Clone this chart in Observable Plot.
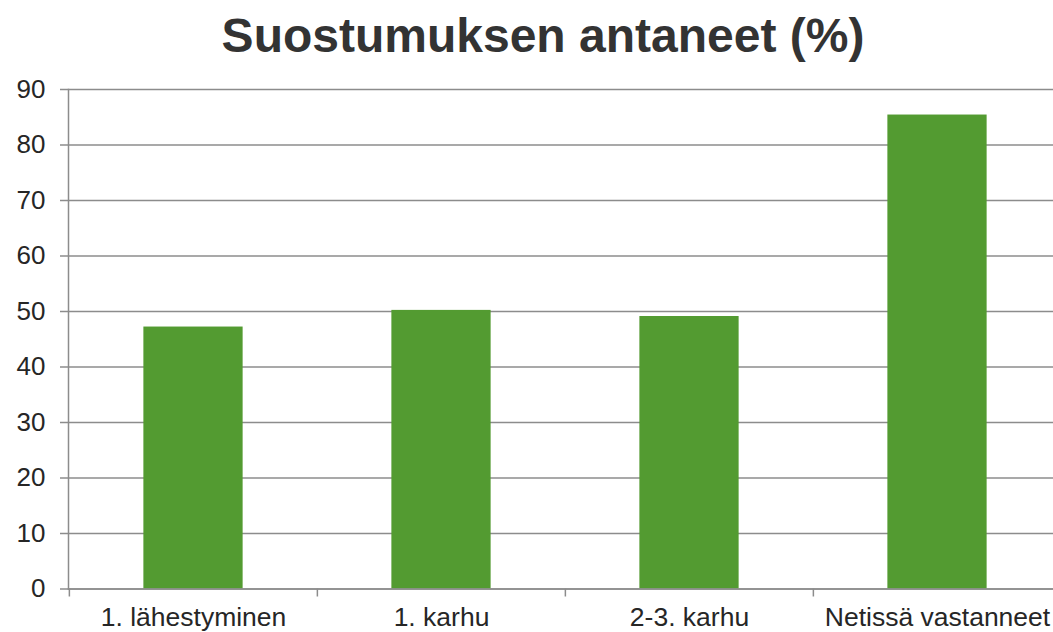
<!DOCTYPE html>
<html>
<head>
<meta charset="utf-8">
<script src="https://cdn.jsdelivr.net/npm/d3@7"></script>
<script src="https://cdn.jsdelivr.net/npm/@observablehq/plot@0.6"></script>
<style>
  html, body { margin: 0; padding: 0; background: #fff; overflow: hidden; }
  #title { position: relative; height: 70px; font-family: "Liberation Sans", Arial, sans-serif; font-weight: bold; font-size: 48px; line-height: 48px; color: #333; }
  #title span { position: absolute; left: 543px; top: 12px; transform: translateX(-50%); white-space: nowrap; }
</style>
</head>
<body>
<div id="title"><span>Suostumuksen antaneet (%)</span></div>
<div id="chart"></div>
<script>
const categories = ["1. lähestyminen", "1. karhu", "2-3. karhu", "Netissä vastanneet"];
const values = [47.2, 50.2, 49.1, 85.4];
const yTicks = [0, 10, 20, 30, 40, 50, 60, 70, 80, 90];

const data = categories.map((c, i) => ({category: c, value: values[i]}));

const W = 1053, H = 562;
const mL = 68, mR = -8;
const band = (W - mL - mR) / categories.length;
const barW = 99.5;
const inset = (band - barW) / 2;
const grid = "#8c8c8c";

const chart = Plot.plot({
  width: W,
  height: H,
  marginLeft: mL,
  marginRight: mR,
  marginTop: 19,
  marginBottom: 43.5,
  style: {fontFamily: "'Liberation Sans', Arial, sans-serif", fontSize: "26px", color: "#262626", background: "#fff", overflow: "hidden"},
  x: {domain: categories, padding: 0},
  y: {domain: [0, 90]},
  marks: [
    Plot.ruleY(yTicks, {stroke: grid, strokeWidth: 1.5, insetLeft: -8}),
    Plot.axisY({ticks: yTicks, tickSize: 0, tickPadding: 23, fontSize: 26, fill: "#262626", label: null}),
    Plot.barY(data, {x: "category", y: "value", fill: "#539b31", insetLeft: inset, insetRight: inset}),
    Plot.frame({anchor: "left", stroke: grid, strokeWidth: 1.5}),
    Plot.frame({anchor: "bottom", stroke: grid, strokeWidth: 1.5}),
    Plot.axisX({tickFormat: () => "", tickSize: 8, dx: -band / 2, stroke: grid, strokeWidth: 1.5, label: null}),
    Plot.axisX({tickSize: 0, tickPadding: 18, fontSize: 26.5, fill: "#262626", label: null})
  ]
});
document.getElementById("chart").appendChild(chart);
</script>
</body>
</html>
